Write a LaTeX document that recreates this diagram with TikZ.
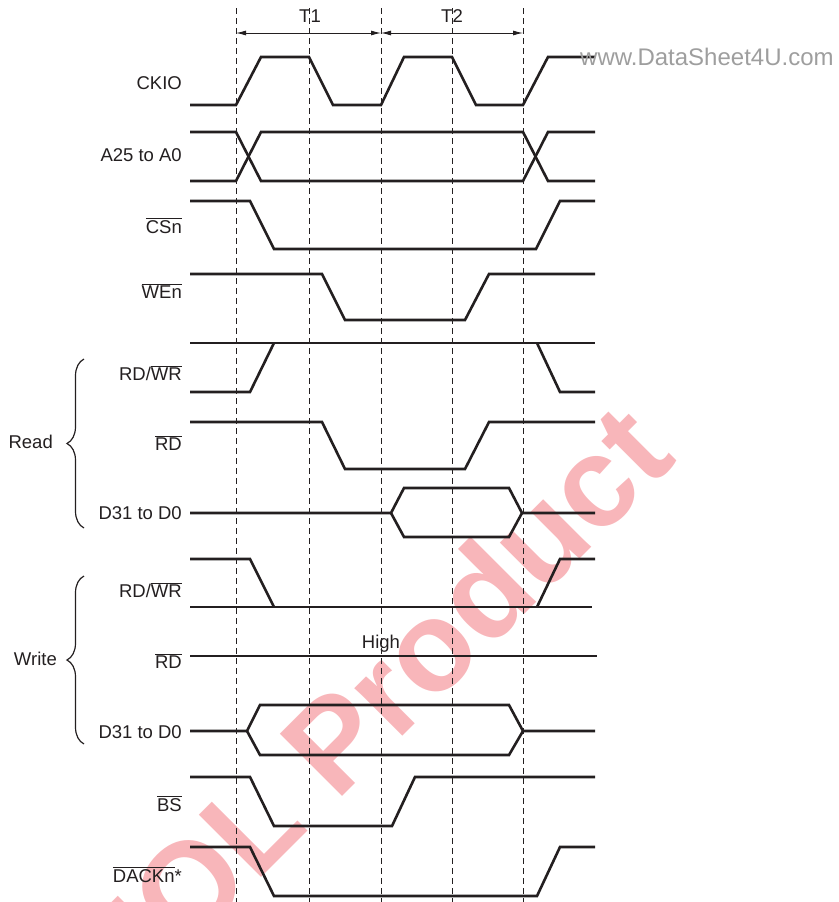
\documentclass[tikz,border=0pt]{standalone}
\usepackage{fontspec}
\setmainfont{Liberation Sans}
\usetikzlibrary{
	arrows.meta,
	decorations.pathreplacing
}
\definecolor{InkBlack}{RGB}{35,31,32}
\definecolor{MarkPink}{RGB}{248,182,186}
\definecolor{SiteGray}{RGB}{158,158,158}
\newcommand{\ovl}[1]{$\overline{\mbox{#1}}$}

\begin{document}
\begin{tikzpicture}[x=1pt, y=-1pt,
		sig/.style={line width=2.6pt, InkBlack},
		grid/.style={line width=0.9pt, InkBlack, dash pattern=on 6pt off 4pt},
		span/.style={line width=0.9pt, InkBlack, {Latex[length=10pt,width=5pt]}-{Latex[length=10pt,width=5pt]}},
		lbl/.style={anchor=base east, inner sep=0pt, text=InkBlack, font=\fontsize{18.5}{22}\selectfont},
		grp/.style={line width=1.2pt, InkBlack, decorate, decoration={brace, amplitude=17pt}}]
		\useasboundingbox (0,0) rectangle (838,902);
		
		% Wasserzeichen
		\node[rotate=45, anchor=base west, inner sep=0pt, text=MarkPink,
			font=\fontsize{128}{128}\selectfont\bfseries] (wmark) at (125,1014) {EOL Product};
		
		% Taktgrenzen
		\draw[grid] (236,8) -- (236,902) (309,8) -- (309,902) (381,8) -- (381,902)
			(452,8) -- (452,902) (523,8) -- (523,902);
		\draw[span] (236,33) -- (381,33);
		\draw[span] (381,33) -- (523,33);
		\node[lbl, anchor=base] (tone) at (310,23) {T1};
		\node[lbl, anchor=base] (ttwo) at (452,23) {T2};
		
		% CKIO
		\node[lbl] (ckio) at (182,89) {CKIO};
		\draw[sig] (190,105) -- (236,105) -- (261,57) -- (309,57) -- (333,105) -- (381,105)
			-- (404,57) -- (452,57) -- (476,105) -- (523,105) -- (548,57) -- (595,57);
		
		% Adressbus
		\node[lbl] (addr) at (182,161) {A25 to A0};
		\draw[sig] (190,132) -- (236,132) -- (261,181) -- (523,181) -- (548,132) -- (595,132);
		\draw[sig] (190,181) -- (236,181) -- (261,132) -- (523,132) -- (548,181) -- (595,181);
		
		% CSn
		\node[lbl] (csn) at (182,233) {\ovl{CSn}};
		\draw[sig] (190,201) -- (250,201) -- (274,249) -- (536,249) -- (560,201) -- (595,201);
		
		% WEn
		\node[lbl] (wen) at (182,298) {\ovl{WEn}};
		\draw[sig] (190,274) -- (322,274) -- (345,320) -- (465,320) -- (489,274) -- (595,274);
		
		% Lesezugriff
		\node[lbl] (rdwrR) at (182,380) {RD/\ovl{WR}};
		\draw[sig] (190,343) -- (595,343);
		\draw[sig] (190,392) -- (250,392) -- (274,343);
		\draw[sig] (537,343) -- (560,392) -- (595,392);
		
		\node[lbl] (rdR) at (182,450) {\ovl{RD}};
		\draw[sig] (190,422) -- (322,422) -- (345,469) -- (465,469) -- (489,422) -- (595,422);
		
		\node[lbl] (dataR) at (182,519) {D31 to D0};
		\draw[sig] (190,513) -- (391,513) -- (404,488) -- (509,488) -- (522,513) -- (595,513);
		\draw[sig] (391,513) -- (404,537) -- (509,537) -- (522,513);
		
		\draw[grp] (84,528) -- (84,359);
		\node[lbl] (read) at (53,448) {Read};
		
		% Schreibzugriff
		\node[lbl] (rdwrW) at (182,597) {RD/\ovl{WR}};
		\draw[sig] (190,559) -- (250,559) -- (274,607);
		\draw[sig] (190,607) -- (592,607);
		\draw[sig] (537,607) -- (560,559) -- (595,559);
		
		\node[lbl] (rdW) at (182,668) {\ovl{RD}};
		\draw[sig] (190,656) -- (597,656);
		\node[lbl, anchor=base] (high) at (381,648) {High};
		
		\node[lbl] (dataW) at (182,738) {D31 to D0};
		\draw[sig] (190,731) -- (247,731) -- (260,705) -- (509,705) -- (523,731) -- (595,731);
		\draw[sig] (247,731) -- (260,755) -- (509,755) -- (523,731);
		
		\draw[grp] (84,744) -- (84,576);
		\node[lbl] (write) at (57,665) {Write};
		
		% BS
		\node[lbl] (bs) at (182,811) {\ovl{BS}};
		\draw[sig] (190,777) -- (250,777) -- (274,826) -- (392,826) -- (415,777) -- (595,777);
		
		% DACKn
		\node[lbl] (dack) at (182,882) {\ovl{DACKn}*};
		\draw[sig] (190,847) -- (250,847) -- (274,896) -- (537,896) -- (560,847) -- (595,847);
		
		% Quelle
		\node[anchor=base west, inner sep=0pt, text=SiteGray, font=\fontsize{24}{28}\selectfont]
			(site) at (580,65) {www.DataSheet4U.com};
	\end{tikzpicture}
\end{document}
